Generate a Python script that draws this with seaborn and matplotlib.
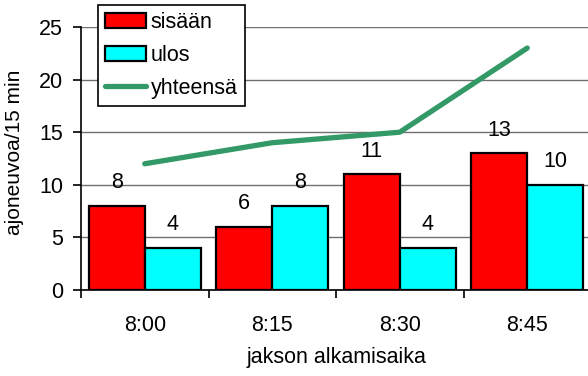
import numpy as np
import pandas as pd
import seaborn as sns
import matplotlib.pyplot as plt

# values
times = ["8:00", "8:15", "8:30", "8:45"]
sisaan = [8, 6, 11, 13]
ulos = [4, 8, 4, 10]
yhteensa = [12, 14, 15, 23]

df = pd.DataFrame({
    "aika": times * 2,
    "suunta": ["sisään"] * 4 + ["ulos"] * 4,
    "maara": sisaan + ulos,
})

sns.set_style("white")
plt.rcParams["font.family"] = ["Liberation Sans", "DejaVu Sans"]
plt.rcParams["text.color"] = "black"
plt.rcParams["xtick.color"] = "black"
plt.rcParams["ytick.color"] = "black"
plt.rcParams["axes.labelcolor"] = "black"

fig = plt.figure(figsize=(5.88, 3.76), dpi=100)
ax = fig.add_axes([81 / 588, 86 / 376, 510 / 588, 263 / 376])

sns.barplot(
    data=df, x="aika", y="maara", hue="suunta",
    palette={"sisään": "#ff0000", "ulos": "#00ffff"}, saturation=1,
    width=0.88, edgecolor="black", linewidth=1.6, ax=ax,
)
sns.lineplot(
    x=np.arange(len(times)), y=yhteensa, color="#339966",
    linewidth=3.8, label="yhteensä", ax=ax,
)

for cont in ax.containers:
    ax.bar_label(cont, fontsize=15.5, padding=9)

ax.set_xlim(-0.5, 3.5)
ax.set_ylim(0, 25)
ax.set_yticks([0, 5, 10, 15, 20, 25])
ax.grid(axis="y", color="#707070", linewidth=1)
ax.set_axisbelow(True)
for s in ["top", "right"]:
    ax.spines[s].set_visible(False)
for s in ["left", "bottom"]:
    ax.spines[s].set_color("black")
    ax.spines[s].set_linewidth(1.2)

ax.set_xticks(range(len(times)))
ax.set_xticklabels(times)
ax.set_xticks([-0.5, 0.5, 1.5, 2.5, 3.5], minor=True)
ax.tick_params(axis="x", which="major", length=0, pad=18, labelsize=15.5)
ax.tick_params(axis="x", which="minor", length=6, width=1.2, color="black", direction="out", bottom=True)
ax.tick_params(axis="y", length=6, width=1.2, color="black", direction="out", left=True, pad=7, labelsize=15.5)

ax.set_xlabel("jakson alkamisaika", fontsize=15.5, labelpad=8)
ax.set_ylabel("ajoneuvoa/15 min", fontsize=15)
ax.yaxis.set_label_coords(-0.112, 0.525)

handles, labels = ax.get_legend_handles_labels()
ax.legend(
    handles, labels, loc="upper left", bbox_to_anchor=(98 / 588, 1 - 5 / 376),
    bbox_transform=fig.transFigure, fontsize=15.5, frameon=True, fancybox=False,
    edgecolor="black", framealpha=1, borderpad=0.34, labelspacing=0.55,
    handlelength=1.9, handleheight=0.7, handletextpad=0.2, borderaxespad=0,
)
ax.get_legend().get_frame().set_linewidth(1.2)

fig.savefig("out.png", dpi=100)
